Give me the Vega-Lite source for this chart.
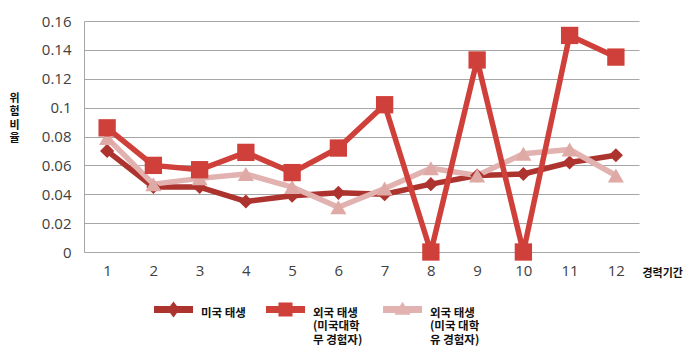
{
  "$schema": "https://vega.github.io/schema/vega-lite/v6.json",
  "autosize": "none",
  "width": 555,
  "height": 231,
  "padding": {"left": 84, "top": 21, "right": 61, "bottom": 105},
  "background": "white",
  "config": {
    "view": {"stroke": null},
    "font": "Noto Sans CJK KR"
  },
  "data": {
    "values": [
      {"k": 1, "s": "미국 태생", "v": 0.070},
      {"k": 2, "s": "미국 태생", "v": 0.045},
      {"k": 3, "s": "미국 태생", "v": 0.045},
      {"k": 4, "s": "미국 태생", "v": 0.035},
      {"k": 5, "s": "미국 태생", "v": 0.039},
      {"k": 6, "s": "미국 태생", "v": 0.041},
      {"k": 7, "s": "미국 태생", "v": 0.040},
      {"k": 8, "s": "미국 태생", "v": 0.047},
      {"k": 9, "s": "미국 태생", "v": 0.053},
      {"k": 10, "s": "미국 태생", "v": 0.054},
      {"k": 11, "s": "미국 태생", "v": 0.062},
      {"k": 12, "s": "미국 태생", "v": 0.067},
      {"k": 1, "s": "외국 태생 (미국 대학 유 경험자)", "v": 0.079},
      {"k": 2, "s": "외국 태생 (미국 대학 유 경험자)", "v": 0.047},
      {"k": 3, "s": "외국 태생 (미국 대학 유 경험자)", "v": 0.051},
      {"k": 4, "s": "외국 태생 (미국 대학 유 경험자)", "v": 0.054},
      {"k": 5, "s": "외국 태생 (미국 대학 유 경험자)", "v": 0.045},
      {"k": 6, "s": "외국 태생 (미국 대학 유 경험자)", "v": 0.031},
      {"k": 7, "s": "외국 태생 (미국 대학 유 경험자)", "v": 0.044},
      {"k": 8, "s": "외국 태생 (미국 대학 유 경험자)", "v": 0.058},
      {"k": 9, "s": "외국 태생 (미국 대학 유 경험자)", "v": 0.053},
      {"k": 10, "s": "외국 태생 (미국 대학 유 경험자)", "v": 0.068},
      {"k": 11, "s": "외국 태생 (미국 대학 유 경험자)", "v": 0.071},
      {"k": 12, "s": "외국 태생 (미국 대학 유 경험자)", "v": 0.053},
      {"k": 1, "s": "외국 태생 (미국대학 무 경험자)", "v": 0.086},
      {"k": 2, "s": "외국 태생 (미국대학 무 경험자)", "v": 0.060},
      {"k": 3, "s": "외국 태생 (미국대학 무 경험자)", "v": 0.057},
      {"k": 4, "s": "외국 태생 (미국대학 무 경험자)", "v": 0.069},
      {"k": 5, "s": "외국 태생 (미국대학 무 경험자)", "v": 0.055},
      {"k": 6, "s": "외국 태생 (미국대학 무 경험자)", "v": 0.072},
      {"k": 7, "s": "외국 태생 (미국대학 무 경험자)", "v": 0.102},
      {"k": 8, "s": "외국 태생 (미국대학 무 경험자)", "v": 0.0},
      {"k": 9, "s": "외국 태생 (미국대학 무 경험자)", "v": 0.133},
      {"k": 10, "s": "외국 태생 (미국대학 무 경험자)", "v": 0.0},
      {"k": 11, "s": "외국 태생 (미국대학 무 경험자)", "v": 0.150},
      {"k": 12, "s": "외국 태생 (미국대학 무 경험자)", "v": 0.135}
    ]
  },
  "encoding": {
    "x": {
      "field": "k", "type": "ordinal",
      "scale": {"type": "point", "padding": 0.5},
      "axis": {
        "title": "경력기간", "labelAngle": 0, "ticks": false,
        "domainColor": "#a6a6a6", "labelFont": "Open Sans", "labelFontSize": 15,
        "labelColor": "#404040", "labelPadding": 11,
        "titleFontSize": 11, "titleFontWeight": "bold", "titleColor": "#111",
        "titleAnchor": "start", "titleX": 558, "titleY": 21, "titleBaseline": "middle", "titleAlign": "left"
      }
    },
    "y": {
      "field": "v", "type": "quantitative",
      "scale": {"domain": [0, 0.16], "nice": false},
      "axis": {
        "title": ["위", "험", "비", "율"], "titleAngle": 0, "titleX": -70, "titleY": 71,
        "titleBaseline": "top",
        "titleFontSize": 11, "titleFontWeight": "bold", "titleColor": "#111", "titleLineHeight": 13.5,
        "values": [0, 0.02, 0.04, 0.06, 0.08, 0.1, 0.12, 0.14, 0.16],
        "format": "~g", "ticks": false, "labelPadding": 13,
        "labelFont": "Open Sans", "labelFontSize": 15, "labelColor": "#404040",
        "domainColor": "#a6a6a6", "gridColor": "#a6a6a6", "gridWidth": 1.2
      }
    }
  },
  "layer": [
    {
      "mark": {"type": "line", "strokeWidth": 5.5, "strokeJoin": "round", "strokeCap": "round"},
      "encoding": {
        "order": {"field": "k"},
        "color": {
          "field": "s", "type": "nominal",
          "scale": {
            "domain": ["미국 태생", "외국 태생 (미국대학 무 경험자)", "외국 태생 (미국 대학 유 경험자)"],
            "range": ["#ad332e", "#d0403a", "#e2b2b0"]
          },
          "legend": {
            "orient": "none", "legendX": 70, "legendY": 273, "direction": "horizontal",
            "title": null, "symbolType": "stroke", "symbolSize": 1521, "symbolStrokeWidth": 0,
            "labelFontSize": 11.5, "labelFontWeight": "bold", "labelColor": "#111",
            "labelLineHeight": 16, "labelOffset": 8, "columnPadding": 20, "labelLimit": 200,
            "labelExpr": "datum.label == '미국 태생' ? ['미국 태생', '', ''] : (datum.label == '외국 태생 (미국대학 무 경험자)' ? ['외국 태생', '(미국대학', '무 경험자)'] : ['외국 태생', '(미국 대학', '유 경험자)'])",
            "encode": {
              "symbols": {
                "update": {
                  "shape": {"signal": "datum.value == '미국 태생' ? 'M-1,-0.38H1V-0.02H-1Z M0,-0.61L0.31,-0.2L0,0.21L-0.31,-0.2Z' : (datum.value == '외국 태생 (미국대학 무 경험자)' ? 'M-1,-0.38H1V-0.02H-1Z M-0.36,-0.56H0.36V0.16H-0.36Z' : 'M-1,-0.38H1V-0.02H-1Z M0,-0.6L0.41,0.07H-0.41Z')"},
                  "fill": {"signal": "datum.value == '미국 태생' ? '#ad332e' : (datum.value == '외국 태생 (미국대학 무 경험자)' ? '#d0403a' : '#e2b2b0')"},
                  "strokeWidth": {"value": 0},
                  "size": {"value": 1521}
                }
              }
            }
          }
        }
      }
    },
    {
      "transform": [{"filter": "datum.s == '미국 태생'"}],
      "mark": {"type": "point", "filled": true, "opacity": 1, "shape": "diamond", "size": 200, "color": "#ad332e"}
    },
    {
      "transform": [{"filter": "datum.s == '외국 태생 (미국 대학 유 경험자)'"}],
      "mark": {"type": "point", "filled": true, "opacity": 1, "shape": "triangle-up", "size": 260, "color": "#dfa9a6"}
    },
    {
      "transform": [{"filter": "datum.s == '외국 태생 (미국대학 무 경험자)'"}],
      "mark": {"type": "point", "filled": true, "opacity": 1, "shape": "square", "size": 300, "color": "#d0403a"}
    }
  ]
}
